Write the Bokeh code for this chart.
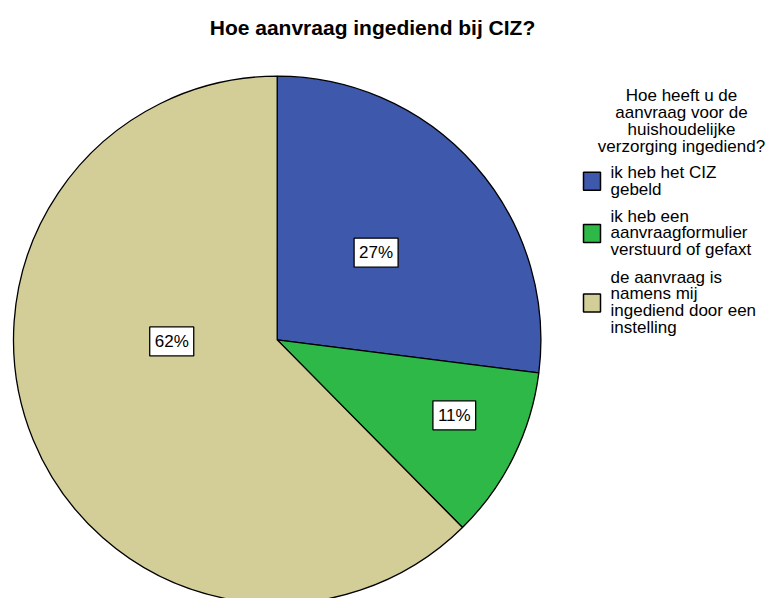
import numpy as np
from bokeh.plotting import figure
from bokeh.models import Range1d
from bokeh.core.properties import value
from bokeh.embed import file_html
from bokeh.resources import INLINE

# ---- data ----
title = "Hoe aanvraag ingediend bij CIZ?"
legend_title = "Hoe heeft u de\naanvraag voor de\nhuishoudelijke\nverzorging ingediend?"
categories = [
    "ik heb het CIZ\ngebeld",
    "ik heb een\naanvraagformulier\nverstuurd of gefaxt",
    "de aanvraag is\nnamens mij\ningediend door een\ninstelling",
]
percent = [27.0, 10.6, 62.4]
pct_labels = ["27%", "11%", "62%"]
colors = ["#3E58AC", "#2EB848", "#D3CE97"]

# ---- layout / style ----
W, H = 771, 598
FONT = value("Liberation Sans")
cx, cy, r = 276.7, H - 339.4, 263.7
label_r_frac = [0.50, 0.73, 0.40]
label_shift_deg = [0.0, 3.2, -21.5]
LH = 0.886          # line height factor
line_px = 17.3      # resulting pixel line spacing
first_off = 9.5     # distance from text top to first line centre

p = figure(width=W, height=H, x_range=Range1d(0, W), y_range=Range1d(0, H),
           output_backend="svg", toolbar_location=None, min_border=0,
           x_axis_location=None, y_axis_location=None, outline_line_color=None)
p.grid.visible = False
p.background_fill_color = "white"
p.border_fill_color = "white"

frac = np.array(percent) / np.sum(percent)
cum = np.concatenate([[0.0], np.cumsum(frac)])
start = np.pi / 2 - 2 * np.pi * cum[:-1]
end = np.pi / 2 - 2 * np.pi * cum[1:]

p.wedge(x=cx, y=cy, radius=r, start_angle=list(start), end_angle=list(end),
        direction="clock", fill_color=colors, line_color="black", line_width=1.3)

mid = (start + end) / 2 + np.radians(label_shift_deg)
lr = np.array(label_r_frac) * r
lx = cx + lr * np.cos(mid)
ly = cy + lr * np.sin(mid)
p.text(x=list(lx), y=list(ly), text=pct_labels, text_align="center",
       text_baseline="middle", text_font=FONT, text_font_size="17px",
       text_color="black", background_fill_color="white",
       border_line_color="black", border_line_width=1.3, padding=5)

# title
p.text(x=[372], y=[H - 27], text=[title], text_align="center", text_baseline="middle",
       text_font=FONT, text_font_size="21px", text_font_style="bold",
       text_color="black")

# legend title
p.text(x=[681], y=[H - (95 - first_off)], text=[legend_title], text_align="center",
       text_baseline="top", text_font=FONT, text_font_size="17px",
       text_line_height=LH, text_color="black")

# legend items
first_centres = []
c = 172.0
gap = 9.0
for cat in categories:
    n = cat.count("\n") + 1
    first_centres.append(c)
    c += n * line_px + gap
tops = [H - (fc - first_off) for fc in first_centres]
centers = [H - (fc + (cat.count("\n")) * line_px / 2)
           for fc, cat in zip(first_centres, categories)]

p.rect(x=[591.5] * len(categories), y=centers, width=17, height=18,
       fill_color=colors, line_color="black", line_width=1.5)
p.text(x=[610] * len(categories), y=tops, text=categories, text_align="left",
       text_baseline="top", text_font=FONT, text_font_size="17px",
       text_line_height=LH, text_color="black")

open("out.html", "w").write(file_html(p, INLINE))
